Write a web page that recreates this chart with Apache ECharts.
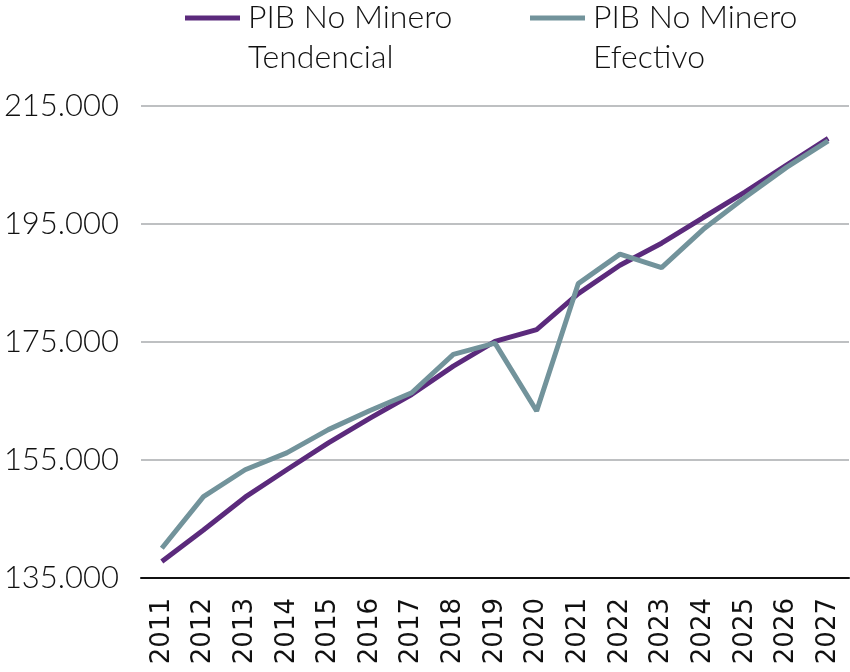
<!DOCTYPE html>
<html><head><meta charset="utf-8">
<script src="https://cdn.jsdelivr.net/npm/echarts@6/dist/echarts.min.js"></script>
<style>html,body{margin:0;padding:0;background:#fff}#c{width:850px;height:672px}</style>
</head><body><div id="c"></div>
<script>
const years = ['2011','2012','2013','2014','2015','2016','2017','2018','2019','2020','2021','2022','2023','2024','2025','2026','2027'];
const tendencial = [137800,143150,148700,153350,157900,162100,166100,170900,175100,177100,183200,188000,191750,196100,200400,205000,209500];
const efectivo = [140050,148800,153350,156200,160150,163400,166400,172900,174800,163300,184900,189900,187600,194100,199500,204600,209100];
const yTicks = [135000,155000,175000,195000,215000];
const seriesNames = ['PIB No Minero Tendencial','PIB No Minero Efectivo'];
const legendLines = {'PIB No Minero Tendencial':['PIB No Minero','Tendencial'],'PIB No Minero Efectivo':['PIB No Minero','Efectivo']};

const purple = '#5b2a7c', gray = '#72939b';
const chart = echarts.init(document.getElementById('c'));
const legendBase = {
  top: -42, padding: 0, itemWidth: 55, itemHeight: 5, itemGap: 0,
  icon: 'rect',
  textStyle: {fontFamily: 'Lato', fontWeight: 300, fontSize: 32, lineHeight: 40, color: '#111', padding:[0,0,0,3]},
  formatter: n => '\n' + legendLines[n].join('\n'),
  selectedMode: false
};
chart.setOption({
  animation: false,
  legend: [
    Object.assign({}, legendBase, {left: 185, data: [seriesNames[0]]}),
    Object.assign({}, legendBase, {left: 530, data: [seriesNames[1]]})
  ],
  grid: {left: 141, right: 1, top: 106, bottom: 94, containLabel: false},
  xAxis: {
    type: 'category', data: years, boundaryGap: true,
    axisLine: {lineStyle: {color: '#111', width: 2}},
    axisTick: {show: false},
    axisLabel: {rotate: 90, margin: 20, fontFamily: 'DejaVu Sans', fontSize: 26, color: '#111', interval: 0}
  },
  yAxis: {
    type: 'value', min: yTicks[0], max: yTicks[yTicks.length-1], interval: 20000,
    axisLine: {show: false}, axisTick: {show: false},
    splitLine: {lineStyle: {color: '#a8abae', width: 1.5}},
    axisLabel: {margin: 22, fontFamily: 'Lato', fontWeight: 300, fontSize: 31, color: '#111',
      formatter: v => v.toLocaleString('de-DE')}
  },
  series: [
    {name: seriesNames[0], type: 'line', data: tendencial, symbol: 'none', lineStyle: {color: purple, width: 5}, itemStyle: {color: purple}, z: 2},
    {name: seriesNames[1], type: 'line', data: efectivo, symbol: 'none', lineStyle: {color: gray, width: 5}, itemStyle: {color: gray}, z: 3}
  ]
});
</script></body></html>
